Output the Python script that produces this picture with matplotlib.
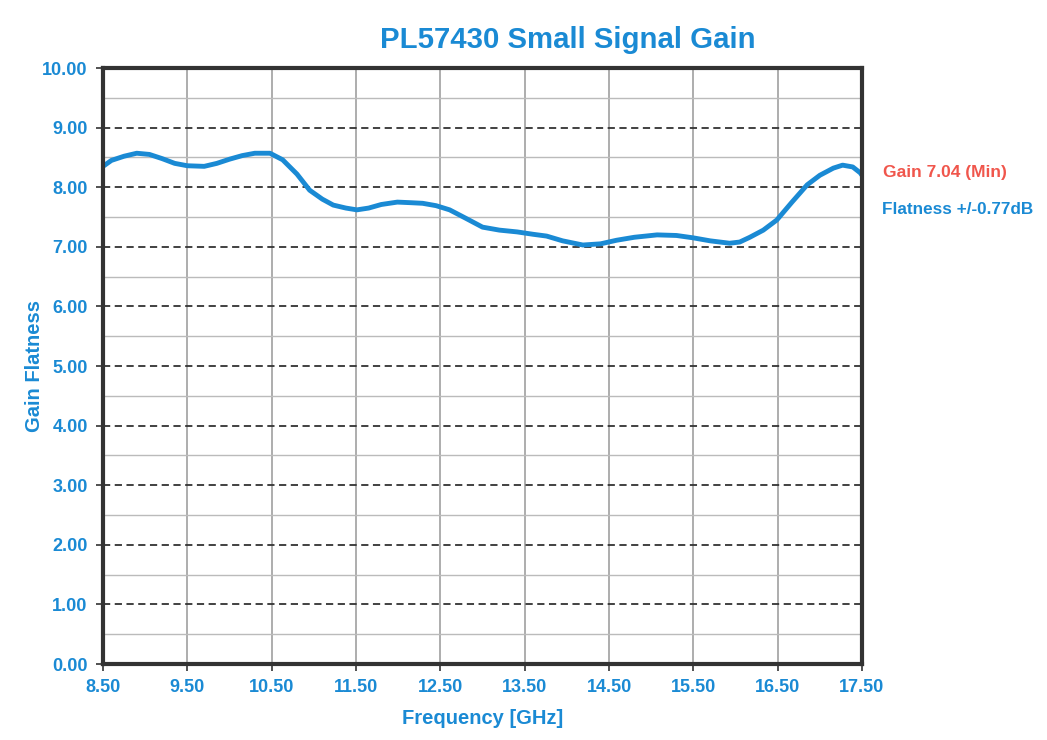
import numpy as np
from matplotlib import pyplot as plt
from matplotlib.ticker import MultipleLocator

# Gain curve
freq = [8.50, 8.60, 8.75, 8.90, 9.05, 9.20, 9.35, 9.50, 9.70, 9.85, 10.00,
        10.15, 10.30, 10.48, 10.63, 10.80, 10.95, 11.10, 11.23, 11.38, 11.51,
        11.65, 11.80, 11.99, 12.15, 12.29, 12.45, 12.61, 12.80, 13.00, 13.20,
        13.41, 13.60, 13.76, 13.95, 14.19, 14.40, 14.59, 14.80, 15.07, 15.30,
        15.50, 15.70, 15.93, 16.05, 16.17, 16.33, 16.49, 16.67, 16.85, 17.00,
        17.16, 17.27, 17.39, 17.48, 17.50]
gain = [8.35, 8.45, 8.52, 8.57, 8.55, 8.48, 8.40, 8.36, 8.35, 8.40, 8.47,
        8.53, 8.57, 8.57, 8.46, 8.22, 7.95, 7.80, 7.70, 7.65, 7.62,
        7.65, 7.71, 7.75, 7.74, 7.73, 7.69, 7.62, 7.48, 7.33, 7.28,
        7.25, 7.21, 7.18, 7.10, 7.03, 7.05, 7.11, 7.16, 7.20, 7.19,
        7.15, 7.10, 7.06, 7.08, 7.16, 7.28, 7.45, 7.75, 8.04, 8.20,
        8.32, 8.37, 8.34, 8.24, 8.20]

blue = "#1a8ad4"
plt.rcParams["font.family"] = ["Liberation Sans", "DejaVu Sans"]
plt.rcParams["font.weight"] = "bold"

fig = plt.figure(figsize=(10.47, 7.4), dpi=100)
ax = fig.add_axes([0.0984, 0.1027, 0.7249, 0.8054])

ax.plot(freq, gain, color=blue, lw=3.5, solid_capstyle="round")

ax.set_xlim(8.5, 17.5)
ax.set_ylim(0, 10)
ax.set_xticks(np.arange(8.5, 17.51, 1.0))
ax.set_yticks(np.arange(0, 10.01, 1.0))
ax.yaxis.set_minor_locator(MultipleLocator(0.5))
ax.xaxis.set_major_formatter(lambda v, p: f"{v:.2f}")
ax.yaxis.set_major_formatter(lambda v, p: f"{v:.2f}")
ax.tick_params(axis="both", which="major", labelsize=13, labelcolor=blue,
               color="#333333", direction="out", length=5, width=1.2, pad=6)
ax.tick_params(axis="y", which="minor", length=0)

ax.grid(axis="x", which="major", color="#a0a0a0", lw=1.2)
ax.grid(axis="y", which="major", color="#333333", lw=1.3, ls=(0, (4, 2.5)))
ax.grid(axis="y", which="minor", color="#bbbbbb", lw=1.0)
ax.set_axisbelow(True)

for s in ax.spines.values():
    s.set_linewidth(3)
    s.set_color("#333333")

ax.set_xlabel("Frequency [GHz]", fontsize=14.5, color=blue, labelpad=9,
              fontweight="bold")
ax.set_ylabel("Gain Flatness", fontsize=14.5, color=blue, labelpad=-1,
              fontweight="bold")

fig.text(568 / 1047, 1 - 40 / 740, "PL57430 Small Signal Gain", fontsize=21.2,
         color=blue, ha="center", va="center", fontweight="bold")
fig.text(883 / 1047, 1 - 172 / 740, "Gain 7.04 (Min)", fontsize=12.5,
         color="#f0564c", ha="left", va="center", fontweight="bold")
fig.text(882 / 1047, 1 - 210 / 740, "Flatness +/-0.77dB", fontsize=12.3,
         color=blue, ha="left", va="center", fontweight="bold")

fig.savefig("out.png", dpi=100)
